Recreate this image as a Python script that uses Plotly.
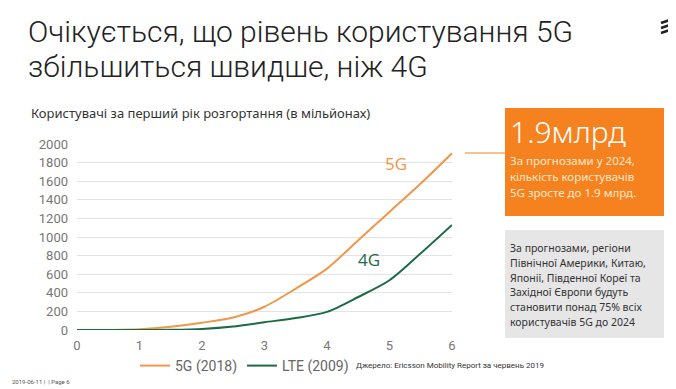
import plotly.graph_objects as go

# ---- data ----
years = [0, 0.5, 1, 1.5, 2, 2.5, 3, 3.5, 4, 4.5, 5, 5.5, 6]
users_5g = [0, 1, 8, 35, 78, 135, 250, 445, 660, 965, 1270, 1575, 1900]
users_lte = [0, 0, 0, 3, 12, 38, 84, 128, 195, 355, 535, 825, 1130]
series_names = ["5G (2018)", "LTE (2009)"]
y_ticks = [0, 200, 400, 600, 800, 1000, 1200, 1400, 1600, 1800, 2000]
x_ticks = [0, 1, 2, 3, 4, 5, 6]

ORANGE = "#F0974A"
GREEN = "#1B6B46"
BOX_ORANGE = "#F5821F"

OFF = 8  # page body margin
W, H = 676 - OFF, 389 - OFF
# plot area in page pixels
PL, PR, PT, PB = 77, 452, 144, 330


def px(x):
    return (x - PL) / (PR - PL)


def py(y):
    return (PB - y) / (PB - PT)


fig = go.Figure()
fig.add_trace(go.Scatter(x=years, y=users_5g, mode="lines", name=series_names[0],
                         line=dict(color=ORANGE, width=2, shape="spline", smoothing=0.8)))
fig.add_trace(go.Scatter(x=years, y=users_lte, mode="lines", name=series_names[1],
                         line=dict(color=GREEN, width=2, shape="spline", smoothing=0.8)))

ann = []
shapes = []

# title
title_font = dict(family="Roboto, sans-serif", size=30, color="#222", weight=300)
ann.append(dict(text="Очікується, що рівень користування 5G", x=px(26), y=py(31), xref="paper", yref="paper",
                xanchor="left", yanchor="middle", showarrow=False, font=title_font))
ann.append(dict(text="збільшиться швидше, ніж 4G", x=px(26), y=py(67), xref="paper", yref="paper",
                xanchor="left", yanchor="middle", showarrow=False, font=title_font))
# subtitle
ann.append(dict(text="Користувачі за перший рік розгортання (в мільйонах)", x=px(29), y=py(113),
                xref="paper", yref="paper", xanchor="left", yanchor="middle", showarrow=False,
                font=dict(family="Noto Sans, sans-serif", size=13, color="#333")))
# series labels
ann.append(dict(text="5G", x=5.1, y=1795, showarrow=False, font=dict(family="Open Sans, sans-serif", size=17, color=ORANGE)))
ann.append(dict(text="4G", x=4.67, y=763, showarrow=False, font=dict(family="Open Sans, sans-serif", size=17, color=GREEN)))

# orange box
shapes.append(dict(type="rect", xref="paper", yref="paper", x0=px(505), x1=px(664), y0=py(108), y1=py(216),
                   fillcolor=BOX_ORANGE, line=dict(width=0), layer="above"))
shapes.append(dict(type="line", xref="paper", yref="paper", x0=px(465), x1=px(505), y0=py(153), y1=py(153),
                   line=dict(color=BOX_ORANGE, width=1.2)))
ann.append(dict(text="1.9млрд", x=px(508), y=py(131), xref="paper", yref="paper", xanchor="left", yanchor="middle",
                showarrow=False, font=dict(family="Noto Sans, sans-serif", size=30, color="white", weight=300)))
for i, t in enumerate(["За прогнозами у 2024,", "кількість користувачів", "5G зросте до 1.9 млрд."]):
    ann.append(dict(text=t, x=px(508), y=py(160 + 16 * i), xref="paper", yref="paper", xanchor="left",
                    yanchor="middle", showarrow=False,
                    font=dict(family="Noto Sans, sans-serif", size=11.5, color="#FFE9CC")))

# grey box
shapes.append(dict(type="rect", xref="paper", yref="paper", x0=px(505), x1=px(664), y0=py(230), y1=py(338),
                   fillcolor="#E6E6E6", line=dict(width=0), layer="above"))
grey_lines = ["За прогнозами, регіони", "Північної Америки, Китаю,", "Японії, Південної Кореї та",
              "Західної Європи будуть", "становити понад 75% всіх", "користувачів 5G до 2024"]
for i, t in enumerate(grey_lines):
    ann.append(dict(text=t, x=px(508), y=py(248 + 14.8 * i), xref="paper", yref="paper", xanchor="left",
                    yanchor="middle", showarrow=False,
                    font=dict(family="Noto Sans, sans-serif", size=10.5, color="#333")))

# source & footer
ann.append(dict(text="Джерело: Ericsson Mobility Report за червень 2019", x=px(354), y=py(365), xref="paper",
                yref="paper", xanchor="left", yanchor="middle", showarrow=False,
                font=dict(family="Roboto, sans-serif", size=8, color="#333")))
ann.append(dict(text="2019-06-11 |  | Page 6", x=px(10), y=py(381), xref="paper",
                yref="paper", xanchor="left", yanchor="middle", showarrow=False,
                font=dict(family="Roboto, sans-serif", size=6, color="#555")))

# logo
for yy in (20, 25, 30):
    shapes.append(dict(type="line", xref="paper", yref="paper", x0=px(661), x1=px(670), y0=py(yy + 3), y1=py(yy),
                       line=dict(color="#222", width=2.5)))

fig.update_layout(
    width=W, height=H, autosize=False,
    margin=dict(l=PL - OFF, r=W - (PR - OFF), t=PT - OFF, b=H - (PB - OFF), autoexpand=False),
    paper_bgcolor="white", plot_bgcolor="white",
    annotations=ann, shapes=shapes,
    showlegend=True,
    legend=dict(orientation="h", xref="container", yref="container", x=(135 - OFF) / W, y=(H - (366 - OFF)) / H,
                xanchor="left", yanchor="middle", font=dict(family="Roboto, Arial, sans-serif", size=14, color="#666"),
                itemwidth=30, tracegroupgap=0, bgcolor="rgba(0,0,0,0)"),
    xaxis=dict(range=[0, 6], tickvals=x_ticks, showgrid=False, zeroline=False, showline=False,
               tickfont=dict(family="Roboto, Arial, sans-serif", size=13, color="#777"), ticks="",
               ticklabelstandoff=6, automargin=False),
    yaxis=dict(range=[0, 2000], tickvals=y_ticks, showgrid=True, gridcolor="#E3E3E3", gridwidth=1,
               zeroline=False, showline=False,
               tickfont=dict(family="Roboto, Arial, sans-serif", size=13, color="#777"), ticks="",
               ticklabelstandoff=8, automargin=False),
)

fig.write_html("out.html")
